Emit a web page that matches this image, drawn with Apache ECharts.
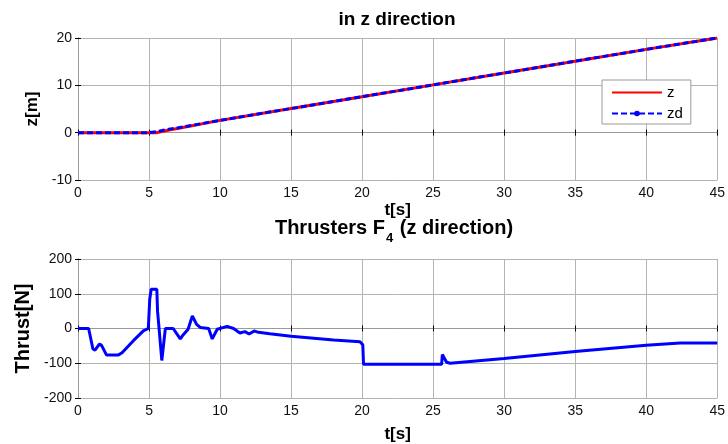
<!DOCTYPE html>
<html>
<head>
<meta charset="utf-8">
<script src="https://cdn.jsdelivr.net/npm/echarts@6/dist/echarts.min.js"></script>
<style>
  html, body { margin: 0; padding: 0; background: #fff; }
  #chart { width: 728px; height: 444px; }
</style>
</head>
<body>
<div id="chart"></div>
<script>
// Position in z: time stamps [s] and values [m]
const zTime = [0, 5, 5.5, 6, 6.5, 7, 10, 15, 20, 25, 30, 35, 40, 45];
const zActual = [0, 0, 0, 0.3, 0.6, 0.9, 2.6, 5.1, 7.6, 10.1, 12.6, 15.1, 17.6, 20];
const zDesired = [0, 0, 0.2, 0.5, 0.8, 1.0, 2.6, 5.1, 7.6, 10.1, 12.6, 15.1, 17.6, 20];

// Thruster F4 force in z direction: time stamps [s] and values [N]
const thrustTime = [0, 0.75, 1.05, 1.2, 1.5, 1.65, 2.0, 2.85, 3.1, 3.9, 4.6, 4.95, 5.05, 5.15, 5.55, 5.6,
  5.7, 5.9, 6.15, 6.7, 7.2, 7.35, 7.75, 8.05, 8.35, 8.6, 9.2, 9.45, 9.55, 9.8, 10.5, 10.95, 11.4, 11.75,
  12.05, 12.4, 12.7, 13.5, 15, 18, 19.85, 20.05, 20.1, 25.6, 25.65, 25.95, 26.2, 30, 35, 40, 42.4, 45];
const thrust = [0, 0, -59, -62, -45, -48, -76, -76, -70, -35, -7, 0, 84, 113, 113, 50,
  3, -92, 0, 0, -30, -21, -2, 36, 12, 3, 0, -30, -30, -2, 6, 0, -13, -9,
  -16, -7, -11, -15, -22, -33, -38, -47, -103, -103, -75, -97, -100, -86, -66, -48, -42, -42];

// Axis ticks
const timeTicks = [0, 45, 5];       // min, max, step
const zTicks = [-10, 20, 10];
const thrustTicks = [-200, 200, 100];

const pairs = (xs, ys) => xs.map((x, i) => [x, ys[i]]);

const FONT = '"Liberation Sans", Arial, sans-serif';
const boxColor = '#9a9a9a';
const gridColor = '#b4b4b4';

function xAxisMain(gridIndex, nameGap) {
  return {
    type: 'value', gridIndex, position: 'bottom',
    min: timeTicks[0], max: timeTicks[1], interval: timeTicks[2],
    name: 't[s]', nameLocation: 'middle', nameGap,
    nameTextStyle: { fontFamily: FONT, fontSize: 17, fontWeight: 'bold', color: '#000' },
    axisLine: { show: true, lineStyle: { color: boxColor, width: 1 } },
    axisTick: { show: true, inside: true, length: 3, lineStyle: { color: '#000' } },
    axisLabel: { fontFamily: FONT, fontSize: 14, color: '#111', margin: 6 },
    splitLine: { show: true, lineStyle: { color: gridColor, width: 1 } }
  };
}
function xAxisTop(gridIndex) {
  return {
    type: 'value', gridIndex, position: 'top',
    min: timeTicks[0], max: timeTicks[1], interval: timeTicks[2],
    axisLine: { show: true, lineStyle: { color: boxColor, width: 1 } },
    axisTick: { show: true, inside: true, length: 3, lineStyle: { color: '#000' } },
    axisLabel: { show: false }, splitLine: { show: false }
  };
}
function yAxisMain(gridIndex, ticks, name, nameGap, nameSize) {
  return {
    type: 'value', gridIndex, position: 'left',
    min: ticks[0], max: ticks[1], interval: ticks[2],
    name, nameLocation: 'middle', nameGap,
    nameTextStyle: { fontFamily: FONT, fontSize: nameSize, fontWeight: 'bold', color: '#000' },
    axisLine: { show: true, lineStyle: { color: boxColor, width: 1 } },
    axisTick: { show: true, inside: true, length: 3, lineStyle: { color: '#000' } },
    axisLabel: { fontFamily: FONT, fontSize: 14, color: '#111', margin: 6 },
    splitLine: { show: true, lineStyle: { color: gridColor, width: 1 } }
  };
}
function yAxisRight(gridIndex, ticks) {
  return {
    type: 'value', gridIndex, position: 'right',
    min: ticks[0], max: ticks[1], interval: ticks[2],
    axisLine: { show: true, lineStyle: { color: boxColor, width: 1 } },
    axisTick: { show: true, inside: true, length: 3, lineStyle: { color: '#000' } },
    axisLabel: { show: false }, splitLine: { show: false }
  };
}

const chart = echarts.init(document.getElementById('chart'), null, { renderer: 'canvas' });
chart.setOption({
  animation: false,
  backgroundColor: '#fff',
  title: [
    {
      text: 'in z direction', left: 397, top: 10, textAlign: 'center', padding: 0,
      textStyle: { fontFamily: FONT, fontSize: 19, fontWeight: 'bold', color: '#000' }
    },
    {
      text: '{a|Thrusters F}{s|4}{a| (z direction)}', left: 394, top: 217, textAlign: 'center', padding: 0,
      textStyle: {
        fontFamily: FONT, fontSize: 20, fontWeight: 'bold', color: '#000',
        rich: {
          a: { fontFamily: FONT, fontSize: 20, fontWeight: 'bold', color: '#000', lineHeight: 23 },
          s: { fontFamily: FONT, fontSize: 13, fontWeight: 'bold', color: '#000', padding: [20, 1, 0, 1], lineHeight: 23 }
        }
      }
    }
  ],
  legend: {
    left: 602, top: 80,
    orient: 'vertical',
    padding: [5, 8, 3, 9],
    itemWidth: 50, itemHeight: 7, itemGap: 6,
    backgroundColor: '#fff', borderColor: '#9a9a9a', borderWidth: 1, borderRadius: 0,
    textStyle: { fontFamily: FONT, fontSize: 15, color: '#000' },
    data: [
      { name: 'z', itemStyle: { opacity: 0 } },
      { name: 'zd' }
    ]
  },
  grid: [
    { left: 78, right: 10, top: 38, height: 142 },
    { left: 78, right: 10, top: 259, height: 141 }
  ],
  xAxis: [xAxisMain(0, 22), xAxisTop(0), xAxisMain(1, 28), xAxisTop(1)],
  yAxis: [
    yAxisMain(0, zTicks, 'z[m]', 36, 17), yAxisRight(0, zTicks),
    yAxisMain(1, thrustTicks, 'Thrust[N]', 45, 20), yAxisRight(1, thrustTicks)
  ],
  series: [
    {
      name: 'z', type: 'line', xAxisIndex: 0, yAxisIndex: 0,
      data: pairs(zTime, zActual),
      symbol: 'none', color: '#ff0000',
      lineStyle: { color: '#ff0000', width: 3 }
    },
    {
      name: 'zd', type: 'line', xAxisIndex: 0, yAxisIndex: 0,
      data: pairs(zTime, zDesired),
      symbol: 'circle', symbolSize: 6, showSymbol: false, color: '#0000ff',
      itemStyle: { color: '#0000ff' },
      lineStyle: { color: '#0000ff', width: 3, type: [6, 3] }
    },
    {
      name: 'F4', type: 'line', xAxisIndex: 2, yAxisIndex: 2,
      data: pairs(thrustTime, thrust),
      symbol: 'none', color: '#0000ff',
      lineStyle: { color: '#0000ff', width: 3 }
    }
  ]
});
</script>
</body>
</html>
